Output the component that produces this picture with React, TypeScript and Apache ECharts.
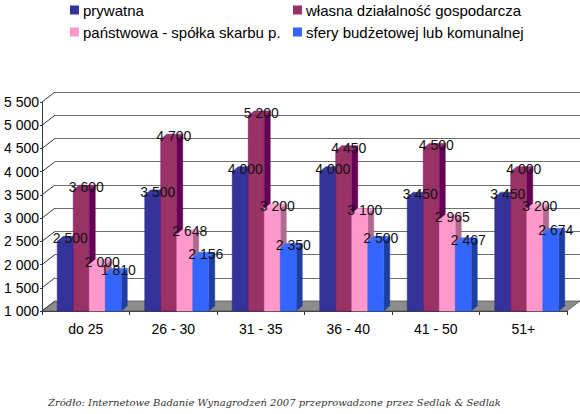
import React, { useEffect, useRef } from "react";
import * as echarts from "echarts";

const categories = ["do 25", "26 - 30", "31 - 35", "36 - 40", "41 - 50", "51+"];
const seriesNames = [
  "prywatna",
  "własna działalność gospodarcza",
  "państwowa - spółka skarbu p.",
  "sfery budżetowej lub komunalnej",
];
const prywatna = [2500, 3500, 4000, 4000, 3450, 3450];
const wlasna = [3600, 4700, 5200, 4450, 4500, 4000];
const panstwowa = [2000, 2648, 3200, 3100, 2965, 3200];
const sfery = [1810, 2156, 2350, 2500, 2467, 2674];
const yTicks = [1000, 1500, 2000, 2500, 3000, 3500, 4000, 4500, 5000, 5500];
const sourceText = "Źródło: Internetowe Badanie Wynagrodzeń 2007 przeprowadzone przez Sedlak & Sedlak";

const faces = [
  { front: "#333399", top: "#3a3aa6", side: "#222270", stroke: "#2a2a88" },
  { front: "#993366", top: "#993366", side: "#660055", stroke: "#800080" },
  { front: "#ff99cc", top: "#ffa6d3", side: "#b06a8e", stroke: "#ff99cc" },
  { front: "#3366ff", top: "#3d6eff", side: "#1f3fa0", stroke: "#3366ff" },
];

const DX = 13;
const DY = -10;
const BDX = 6;
const BDY = -5;
const FONT = "Liberation Sans, Arial, sans-serif";

const fmt = (v: number) => String(v).replace(/\B(?=(\d{3})+(?!\d))/g, " ");

export default function App() {
  const ref = useRef<HTMLDivElement>(null);
  useEffect(() => {
    if (!ref.current) return;
    const chart = echarts.init(ref.current, null, { renderer: "svg" });
    const allData = [prywatna, wlasna, panstwowa, sfery];

    const barSeries = allData.map((arr, si) => ({
      type: "custom",
      name: seriesNames[si],
      xAxisIndex: 0,
      yAxisIndex: 0,
      z: 3,
      color: faces[si].front,
      itemStyle: { color: faces[si].front },
      encode: { x: 0, y: 1 },
      data: arr.map((v, i) => [i, v]),
      renderItem: (params: any, api: any) => {
        const ci = api.value(0);
        const v = api.value(1);
        const top = api.coord([ci, v]);
        const base = api.coord([ci, 1000]);
        const catW = api.size([1, 0])[0];
        const bw = catW * 0.183;
        const x0 = top[0] - 2 * bw + si * bw + 3.5;
        const yT = top[1];
        const yB = base[1];
        const f = faces[si];
        return {
          type: "group",
          children: [
            {
              type: "polygon",
              shape: {
                points: [
                  [x0 + bw, yT],
                  [x0 + bw + BDX, yT + BDY],
                  [x0 + bw + BDX, yB + BDY],
                  [x0 + bw, yB],
                ],
              },
              style: { fill: f.side, stroke: f.side, lineWidth: 0.5 },
            },
            {
              type: "polygon",
              shape: {
                points: [
                  [x0, yT],
                  [x0 + bw, yT],
                  [x0 + bw + BDX, yT + BDY],
                  [x0 + BDX, yT + BDY],
                ],
              },
              style: { fill: f.top, stroke: f.stroke, lineWidth: 0.5 },
            },
            {
              type: "rect",
              shape: { x: x0, y: yT, width: bw, height: yB - yT },
              style: { fill: f.front, stroke: f.stroke, lineWidth: 0.5 },
            },
            {
              type: "text",
              x: x0 + bw / 2 + 5,
              y: yT - 3,
              z2: 100,
              style: {
                text: fmt(v),
                fill: "#111",
                fontSize: 14,
                fontFamily: FONT,
                align: "center",
                verticalAlign: "middle",
              },
            },
          ],
        };
      },
    }));

    const frameSeries = {
      type: "custom",
      name: "frame",
      xAxisIndex: 0,
      yAxisIndex: 0,
      z: 1,
      silent: true,
      encode: { x: 0, y: 1 },
      data: yTicks.map((v) => [0, v]),
      renderItem: (params: any, api: any) => {
        const cs = params.coordSys;
        const p = api.coord([0, api.value(1)]);
        const children: any[] = [
          {
            type: "line",
            shape: { x1: cs.x, y1: p[1], x2: cs.x + DX, y2: p[1] + DY },
            style: { stroke: "#333", lineWidth: 1 },
          },
        ];
        if (params.dataIndex === 0) {
          const yb = cs.y + cs.height;
          children.unshift({
            type: "polygon",
            shape: {
              points: [
                [cs.x, yb],
                [cs.x + cs.width, yb],
                [cs.x + cs.width + DX, yb + DY],
                [cs.x + DX, yb + DY],
              ],
            },
            style: { fill: "#8c8c8c", stroke: "#555", lineWidth: 0.8 },
          });
        }
        return { type: "group", children };
      },
    };

    const legendCommon = {
      orient: "vertical",
      top: 2,
      padding: 0,
      itemWidth: 9,
      itemHeight: 9,
      itemGap: 6,
      icon: "rect",
      textStyle: {
        fontSize: 15,
        lineHeight: 16,
        fontFamily: FONT,
        color: "#000",
        padding: [0, 0, 0, -1],
      },
    };

    chart.setOption({
      animation: false,
      backgroundColor: "#fff",
      legend: [
        { ...legendCommon, left: 70, data: [seriesNames[0], seriesNames[2]] },
        { ...legendCommon, left: 293, data: [seriesNames[1], seriesNames[3]] },
      ],
      grid: [
        { left: 42, right: 13, top: 102, bottom: 103 },
        { left: 42 + DX, right: 13 - DX, top: 102 + DY, bottom: 103 - DY },
      ],
      xAxis: [
        {
          gridIndex: 0,
          type: "category",
          data: categories,
          boundaryGap: true,
          axisLine: { show: true, lineStyle: { color: "#333", width: 1 } },
          axisTick: { show: true, length: 4, lineStyle: { color: "#333" } },
          axisLabel: { fontSize: 14, fontFamily: FONT, color: "#000", margin: 11 },
          splitLine: { show: false },
        },
        {
          gridIndex: 1,
          type: "category",
          data: categories,
          show: false,
        },
      ],
      yAxis: [
        {
          gridIndex: 0,
          type: "value",
          min: 1000,
          max: 5500,
          interval: 500,
          axisLine: { show: true, lineStyle: { color: "#333", width: 1 } },
          axisTick: { show: true, length: 2, lineStyle: { color: "#333" } },
          axisLabel: {
            fontSize: 14,
            fontFamily: FONT,
            color: "#000",
            margin: 3,
            formatter: (v: number) => fmt(v),
          },
          splitLine: { show: false },
        },
        {
          gridIndex: 1,
          type: "value",
          min: 1000,
          max: 5500,
          interval: 500,
          axisLine: { show: false },
          axisTick: { show: false },
          axisLabel: { show: false },
          splitLine: { show: true, lineStyle: { color: "#6e6e6e", width: 1 } },
        },
      ],
      graphic: [
        {
          type: "text",
          left: 48,
          top: 397,
          style: {
            text: sourceText,
            fill: "#333",
            fontSize: 10,
            fontStyle: "italic",
            fontFamily: "DejaVu Serif, serif",
          },
        },
      ],
      series: [frameSeries, ...barSeries],
    });
    return () => chart.dispose();
  }, []);
  return (
    <div
      ref={ref}
      style={{ position: "fixed", left: 0, top: 0, width: 580, height: 414 }}
    />
  );
}
